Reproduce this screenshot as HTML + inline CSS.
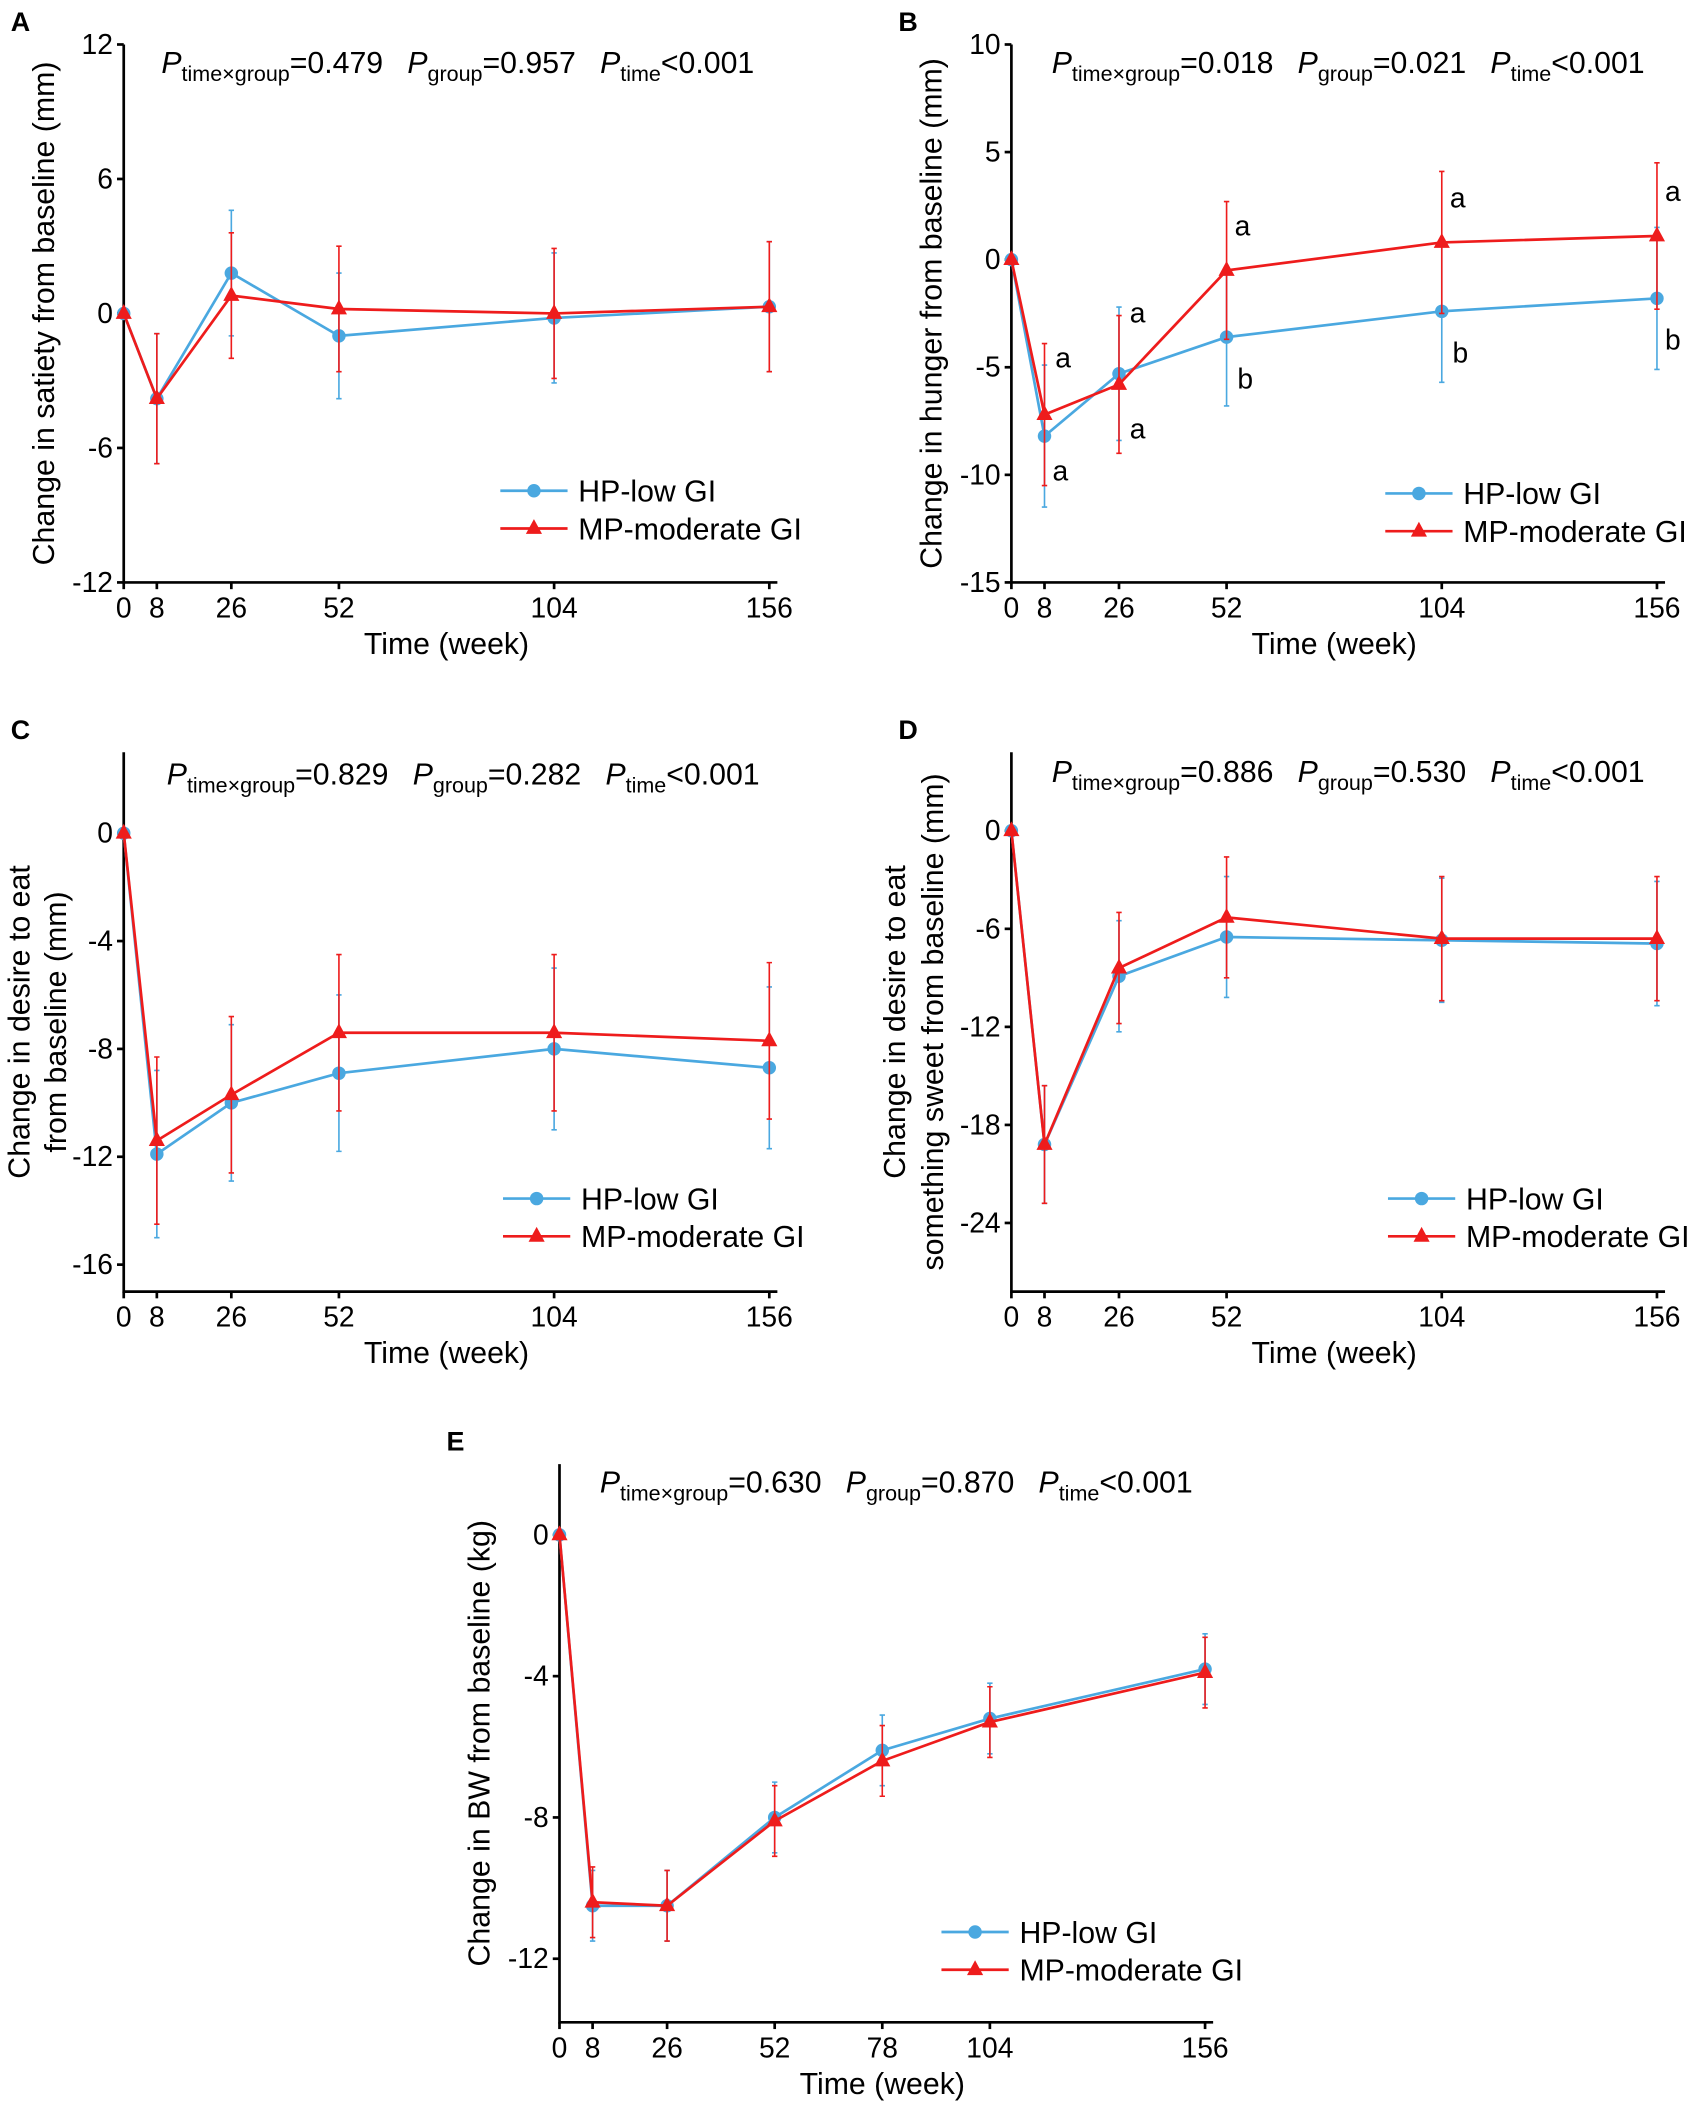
<!DOCTYPE html>
<html><head><meta charset="utf-8"><style>
html,body{margin:0;padding:0;background:#fff}
svg{display:block}
text{font-family:"Liberation Sans",Arial,sans-serif;fill:#000}
</style></head><body>
<svg id="fig" width="1700" height="2114" viewBox="0 0 1264 1568" preserveAspectRatio="none" xmlns="http://www.w3.org/2000/svg"></svg>
<script>
const NS="http://www.w3.org/2000/svg";
const weeks6=[0,8,26,52,104,156];
const weeks7=[0,8,26,52,78,104,156];
const aHP=[0,-3.8,1.8,-1,-0.2,0.3], aMP=[0,-3.8,0.8,0.2,0,0.3];
const aHPe=[0,2.9,2.8,2.8,2.9,2.9], aMPe=[0,2.9,2.8,2.8,2.9,2.9];
const bHP=[0,-8.2,-5.3,-3.6,-2.4,-1.8], bMP=[0,-7.2,-5.8,-0.5,0.8,1.1];
const bHPe=[0,3.3,3.1,3.2,3.3,3.3], bMPe=[0,3.3,3.2,3.2,3.3,3.4];
const cHP=[0,-11.9,-10,-8.9,-8,-8.7], cMP=[0,-11.4,-9.7,-7.4,-7.4,-7.7];
const cHPe=[0,3.1,2.9,2.9,3,3], cMPe=[0,3.1,2.9,2.9,2.9,2.9];
const dHP=[0,-19.2,-8.9,-6.5,-6.7,-6.9], dMP=[0,-19.2,-8.4,-5.3,-6.6,-6.6];
const dHPe=[0,3.6,3.4,3.7,3.8,3.8], dMPe=[0,3.6,3.4,3.7,3.8,3.8];
const eHP=[0,-10.5,-10.5,-8,-6.1,-5.2,-3.8], eMP=[0,-10.4,-10.5,-8.1,-6.4,-5.3,-3.9];
const eHPe=[0,1,1,1,1,1,1], eMPe=[0,1,1,1,1,1,1];
const svg=document.getElementById('fig');
function el(t,a,p){const e=document.createElementNS(NS,t);for(const k in a)e.setAttribute(k,a[k]);(p||svg).appendChild(e);return e;}
function txt(x,y,s,size,anchor,p){const t=el('text',{x:x,y:y,'font-size':size,'text-anchor':anchor||'start'},p);t.textContent=s;return t;}
function panel(o){
 const g=el('g',{});
 
 
 const xs=w=>o.x0+(w/156)*o.xw;
 const ys=v=>o.y0-(v-o.ymin)*o.ppu;
 const lab=txt(o.x0-84,o.ytop-10,o.id.toUpperCase(),20,'start',g);lab.setAttribute('font-weight','bold');
 
 const ax=el('path',{d:`M${o.x0},${o.ytop}V${o.y0}H${xs(156)+6}`,stroke:'#000','stroke-width':2,fill:'none'},g);
 
 o.yticks.forEach(v=>{const y=ys(v);el('line',{x1:o.x0-5,x2:o.x0,y1:y,y2:y,stroke:'#000','stroke-width':2},g);
  const t=txt(o.x0-8,y+7,String(v),21,'end',g);});
 o.weeks.forEach(w=>{const x=xs(w);el('line',{x1:x,x2:x,y1:o.y0,y2:o.y0+5,stroke:'#000','stroke-width':2},g);
  const t=txt(x,o.y0+26,String(w),21,'middle',g);});
 const xt=txt(xs(78),o.y0+53,'Time (week)',22.5,'middle',g);
 const cy=(o.ytop+o.y0)/2;
 o.ytitle.forEach((s,i)=>{const tx=o.x0-o.yoff[i];const t=txt(tx,cy,s,22.5,'middle',g);
  t.setAttribute('transform',`rotate(-90 ${tx} ${cy})`);});
 const p=el('text',{x:o.px,y:o.py,'font-size':22.5},g);
 
 p.innerHTML=`<tspan font-style="italic">P</tspan><tspan font-size="16" dy="6">time×group</tspan><tspan dy="-6">=${o.p[0]}</tspan><tspan dx="18" font-style="italic">P</tspan><tspan font-size="16" dy="6">group</tspan><tspan dy="-6">=${o.p[1]}</tspan><tspan dx="18" font-style="italic">P</tspan><tspan font-size="16" dy="6">time</tspan><tspan dy="-6">&lt;0.001</tspan>`;
 const series=[[o.hp,o.hpe,'#4aa8e0','circle','hp-low-gi'],[o.mp,o.mpe,'#ee1c1c','tri','mp-moderate-gi']];
 series.forEach(([d,e,c,m,nm])=>{
  const sg=el('g',{},g);
  d.forEach((v,i)=>{if(!e[i])return;const x=xs(o.weeks[i]);
   const b=el('path',{d:`M${x},${ys(v+e[i])}V${ys(v-e[i])}M${x-2},${ys(v+e[i])}h4M${x-2},${ys(v-e[i])}h4`,stroke:c,'stroke-width':1.2,fill:'none'},sg);
   });
  const ln=el('polyline',{points:d.map((v,i)=>xs(o.weeks[i])+','+ys(v)).join(' '),stroke:c,'stroke-width':2,fill:'none'},sg);
  
  d.forEach((v,i)=>{const x=xs(o.weeks[i]),y=ys(v);let mk;
   if(m==='circle')mk=el('circle',{cx:x,cy:y,r:5,fill:c},sg);
   else mk=el('path',{d:`M${x},${y-7}L${x+6},${y+4}L${x-6},${y+4}Z`,fill:c},sg);
   });
 });
 const lg=el('g',{},g);
 [['HP-low GI','#4aa8e0','c'],['MP-moderate GI','#ee1c1c','t']].forEach(([s,c,m],i)=>{
  const y=o.ly+i*28,x=o.lx;
  const en=el('g',{},lg);
  el('line',{x1:x,x2:x+50,y1:y,y2:y,stroke:c,'stroke-width':2},en);
  if(m==='c')el('circle',{cx:x+25,cy:y,r:5,fill:c},en);else el('path',{d:`M${x+25},${y-7}L${x+31},${y+4}L${x+19},${y+4}Z`,fill:c},en);
  txt(x+58,y+8,s,22.5,'start',en);
 });
 (o.letters||[]).forEach(([w,v,s,dx,dy])=>{const t=txt(xs(w)+dx,ys(v)+dy,s,21,'start',g);});
 return {xs,ys};
}
panel({id:'a',x0:92,xw:480,y0:432,ytop:33,ymin:-12,ppu:399/24,yticks:[12,6,0,-6,-12],weeks:weeks6,hp:aHP,mp:aMP,hpe:aHPe,mpe:aMPe,
 ytitle:['Change in satiety from baseline (mm)'],yoff:[52],px:120,py:54,p:['0.479','0.957'],lx:372,ly:364});
panel({id:'b',x0:752,xw:480,y0:432,ytop:33,ymin:-15,ppu:399/25,yticks:[10,5,0,-5,-10,-15],weeks:weeks6,hp:bHP,mp:bMP,hpe:bHPe,mpe:bMPe,
 ytitle:['Change in hunger from baseline (mm)'],yoff:[52],px:782,py:54,p:['0.018','0.021'],lx:1030,ly:366,
 letters:[[8,-7.2,'a',8,-35],[8,-8.2,'a',6,33],[26,-5.3,'a',8,-38],[26,-5.8,'a',8,40],[52,-0.5,'a',6,-26],[52,-3.6,'b',8,38],[104,0.8,'a',6,-26],[104,-2.4,'b',8,38],[156,1.1,'a',6,-26],[156,-1.8,'b',6,38]]});
panel({id:'c',x0:92,xw:480,y0:958,ytop:558,ymin:-17,ppu:20,yticks:[0,-4,-8,-12,-16],weeks:weeks6,hp:cHP,mp:cMP,hpe:cHPe,mpe:cMPe,
 ytitle:['Change in desire to eat','from baseline (mm)'],yoff:[70,43],px:124,py:582,p:['0.829','0.282'],lx:374,ly:889});
panel({id:'d',x0:752,xw:480,y0:958,ytop:558,ymin:-28.2,ppu:12.12,yticks:[0,-6,-12,-18,-24],weeks:weeks6,hp:dHP,mp:dMP,hpe:dHPe,mpe:dMPe,
 ytitle:['Change in desire to eat','something sweet from baseline (mm)'],yoff:[79,51],px:782,py:580,p:['0.886','0.530'],lx:1032,ly:889});
panel({id:'e',x0:416,xw:480,y0:1500,ytop:1086,ymin:-13.8,ppu:26.2,yticks:[0,-4,-8,-12],weeks:weeks7,hp:eHP,mp:eMP,hpe:eHPe,mpe:eMPe,
 ytitle:['Change in BW from baseline (kg)'],yoff:[52],px:446,py:1107,p:['0.630','0.870'],lx:700,ly:1433});
</script>
</body></html>
